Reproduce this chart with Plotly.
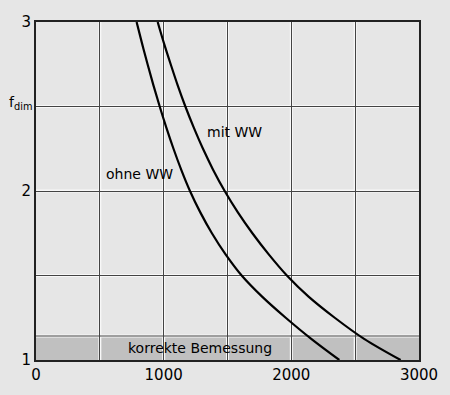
import plotly.graph_objects as go

# Data (t_a at f_dim steps of 0.125)
f_levels = [3.0, 2.875, 2.75, 2.625, 2.5, 2.375, 2.25, 2.125, 2.0,
            1.875, 1.75, 1.625, 1.5, 1.375, 1.25, 1.125, 1.0]
ohne_t = [788, 830, 874, 920, 969, 1021, 1077, 1138, 1206,
          1286, 1378, 1485, 1611, 1771, 1956, 2156, 2376]
mit_t = [953, 1002, 1055, 1110, 1170, 1236, 1308, 1388, 1478,
         1580, 1695, 1823, 1965, 2135, 2340, 2570, 2856]
band_f = [1.0, 1.142]
x_ticks = [0, 1000, 2000, 3000]
y_ticks = [1, 2, 3]
x_grid = [500, 1000, 1500, 2000, 2500]
y_grid = [1.5, 2.0, 2.5]

FONT = "DejaVu Sans"
BG = "#e6e6e6"
GRID = "#444444"

fig = go.Figure()

fig.add_shape(type="rect", xref="x", yref="y", x0=0, x1=3000, y0=band_f[0], y1=band_f[1],
              fillcolor="#c0c0c0", line=dict(width=0), layer="below")
# light halo beside the grid lines
for gx in x_grid:
    fig.add_shape(type="line", xref="x", yref="y", x0=gx, x1=gx, y0=1, y1=3,
                  line=dict(color="#f8f8f8", width=3), layer="below")
for gy in y_grid + [band_f[1]]:
    fig.add_shape(type="line", xref="x", yref="y", x0=0, x1=3000, y0=gy, y1=gy,
                  line=dict(color="#f8f8f8", width=3), layer="below")
fig.add_shape(type="line", xref="x", yref="y", x0=0, x1=3000, y0=band_f[1], y1=band_f[1],
              line=dict(color=GRID, width=1), layer="below")

for t in [ohne_t, mit_t]:
    fig.add_trace(go.Scatter(x=t, y=f_levels, mode="lines",
                             line=dict(color="black", width=2.2, shape="spline", smoothing=1.0),
                             showlegend=False, hoverinfo="skip"))

ann = dict(showarrow=False, font=dict(family=FONT, size=14, color="black"))
fig.add_annotation(x=1558, y=2.35, text="mit WW", **ann)
fig.add_annotation(x=814, y=2.10, text="ohne WW", **ann)
fig.add_annotation(x=1284, y=1.07, text="korrekte Bemessung", **ann)
fig.add_annotation(x=1511, y=0.925, text="t<sub>a</sub> [h/a]", **ann)
fig.add_annotation(xref="paper", x=-0.005, y=2.52, xanchor="right", text="f<sub>dim</sub>", **ann)

fig.update_xaxes(range=[0, 3000], tickvals=x_ticks, ticktext=[str(v) for v in x_ticks],
                 showgrid=True, gridcolor=GRID, gridwidth=1,
                 minor=dict(dtick=500, tick0=0, showgrid=True, gridcolor=GRID, gridwidth=1),
                 showline=True, linecolor="#222222", linewidth=2, mirror=True,
                 zeroline=False, ticks="", tickfont=dict(family=FONT, size=15, color="black"))
fig.update_yaxes(range=[1, 3], tickvals=y_ticks,
                 showgrid=True, gridcolor=GRID, gridwidth=1,
                 minor=dict(dtick=0.5, tick0=1, showgrid=True, gridcolor=GRID, gridwidth=1),
                 showline=True, linecolor="#222222", linewidth=2, mirror=True,
                 zeroline=False, ticks="", tickfont=dict(family=FONT, size=15, color="black"))

fig.update_layout(width=450, height=395, margin=dict(l=36, r=31, t=22, b=35),
                  paper_bgcolor=BG, plot_bgcolor=BG, showlegend=False)

fig.write_html("out.html", config={"displayModeBar": False, "staticPlot": True},
               post_script="document.body.style.margin='0';document.body.style.background='%s';" % BG)
